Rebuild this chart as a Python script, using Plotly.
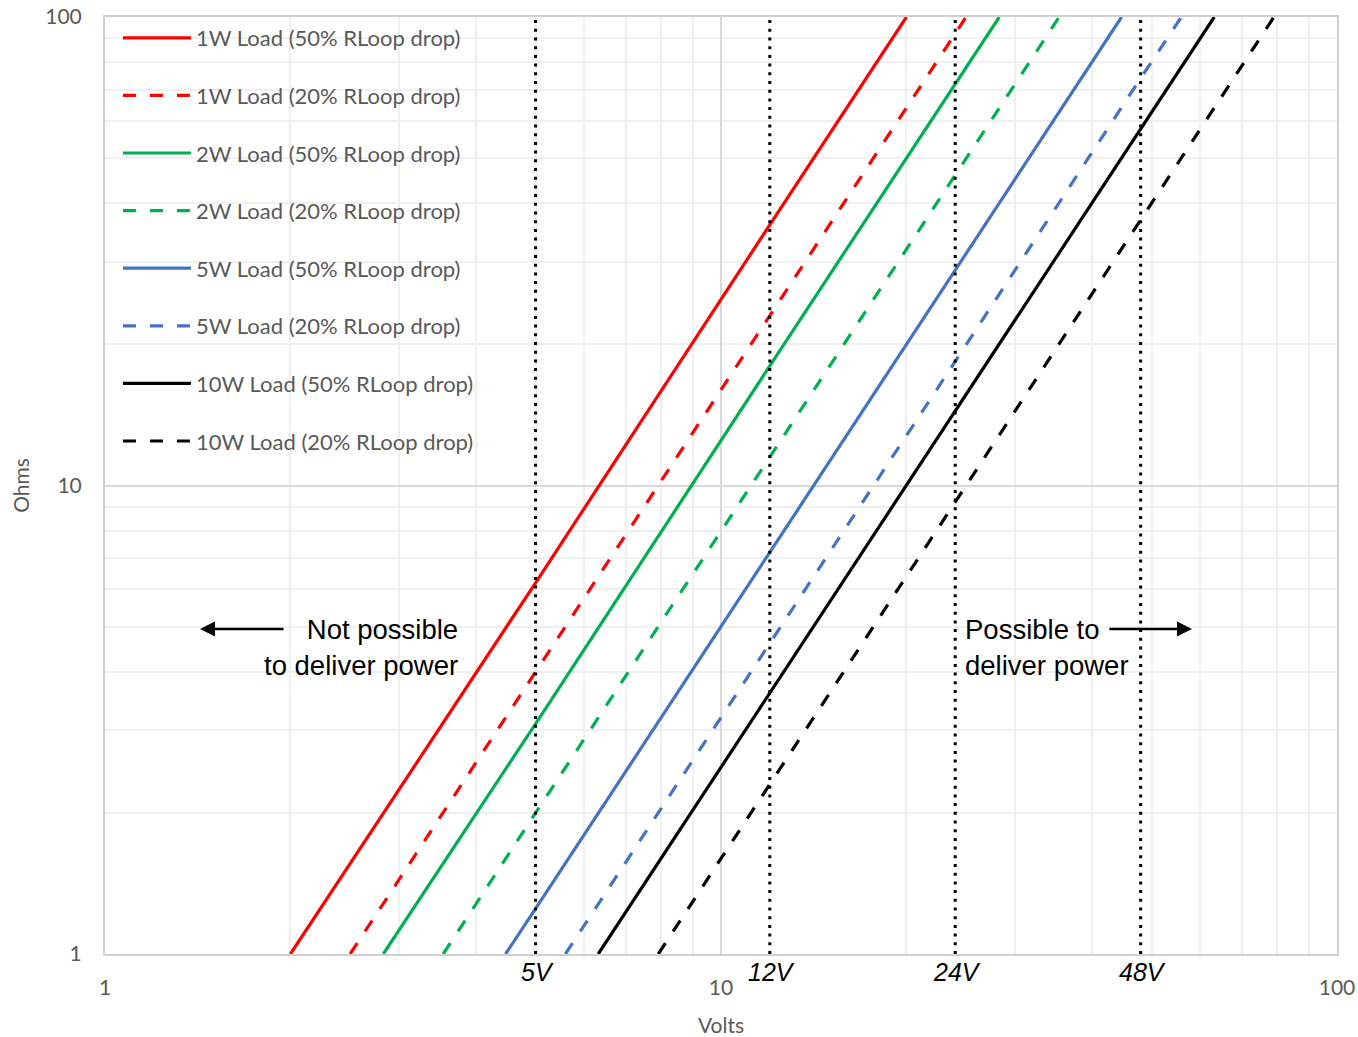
import math
import plotly.graph_objects as go

# ---- data (Volts, Ohms) ----
series_names = [
    "1W Load (50% RLoop drop)", "1W Load (20% RLoop drop)",
    "2W Load (50% RLoop drop)", "2W Load (20% RLoop drop)",
    "5W Load (50% RLoop drop)", "5W Load (20% RLoop drop)",
    "10W Load (50% RLoop drop)", "10W Load (20% RLoop drop)",
]
volts_1w_50 = [2.0, 5, 12, 20.0]
ohms_1w_50 = [1.0, 6.2, 36, 100]
volts_1w_20 = [2.5, 5, 12, 24, 25.0]
ohms_1w_20 = [1.0, 4.0, 23, 92, 100]
volts_2w_50 = [2.83, 5, 12, 24, 28.3]
ohms_2w_50 = [1.0, 3.1, 18, 72, 100]
volts_2w_20 = [3.54, 5, 12, 24, 35.4]
ohms_2w_20 = [1.0, 2.0, 11.5, 46, 100]
volts_5w_50 = [4.47, 5, 12, 24, 44.7]
ohms_5w_50 = [1.0, 1.25, 7.2, 28.8, 100]
volts_5w_20 = [5.59, 12, 24, 48, 55.9]
ohms_5w_20 = [1.0, 4.6, 18.4, 74, 100]
volts_10w_50 = [6.32, 12, 24, 48, 63.2]
ohms_10w_50 = [1.0, 3.6, 14.4, 57.6, 100]
volts_10w_20 = [7.91, 12, 24, 48, 79.0]
ohms_10w_20 = [1.0, 2.3, 9.2, 36.9, 100]

supply_voltages = [5, 12, 24, 48]
supply_labels = ["5V", "12V", "24V", "48V"]
ohm_range = [1, 100]

x_ticks = [1, 10, 100]
y_ticks = [1, 10, 100]

series_x = [volts_1w_50, volts_1w_20, volts_2w_50, volts_2w_20,
            volts_5w_50, volts_5w_20, volts_10w_50, volts_10w_20]
series_y = [ohms_1w_50, ohms_1w_20, ohms_2w_50, ohms_2w_20,
            ohms_5w_50, ohms_5w_20, ohms_10w_50, ohms_10w_20]
colors = ["#FF0000", "#FF0000", "#00B050", "#00B050",
          "#4472C4", "#4472C4", "#000000", "#000000"]
dashes = ["solid", "13px,14px"] * 4

fig = go.Figure()
for i, (nm, xs, ys) in enumerate(zip(series_names, series_x, series_y)):
    fig.add_trace(go.Scatter(
        x=xs, y=ys, mode="lines", name=nm, legendgroup=str(i),
        line=dict(color=colors[i], width=3.2, dash=dashes[i]),
    ))

for v in supply_voltages:
    fig.add_trace(go.Scatter(
        x=[v, v], y=ohm_range, mode="lines", showlegend=False,
        line=dict(color="#000000", width=3, dash="3px,5.7px"), hoverinfo="skip",
    ))

annotations = []
for v, lab in zip(supply_voltages, supply_labels):
    annotations.append(dict(
        x=math.log10(v), xref="x", y=-0.0195, yref="paper",
        text=lab, showarrow=False, xanchor="center", yanchor="middle", xshift=2,
        font=dict(family="Liberation Sans, Arial", size=25, color="#000000", style="italic"),
    ))

txt_font = dict(family="Liberation Sans, Arial", size=27.5, color="#000000")
annotations.append(dict(
    x=0.577, y=0.654, xref="x", yref="y", text="Not possible<br>to deliver power",
    showarrow=False, xanchor="right", yanchor="middle", align="right", font=txt_font,
))
annotations.append(dict(
    x=1.393, y=0.654, xref="x", yref="y", text="Possible to<br>deliver power",
    showarrow=False, xanchor="left", yanchor="middle", align="left", font=txt_font,
))
# arrows
annotations.append(dict(
    x=0.1542, y=0.6937, xref="x", yref="y", ax=0.2922, ay=0.6937, axref="x", ayref="y",
    text="", showarrow=True, arrowhead=2, arrowsize=1.2, arrowwidth=2.5, arrowcolor="#000000",
))
annotations.append(dict(
    x=1.7646, y=0.6937, xref="x", yref="y", ax=1.628, ay=0.6937, axref="x", ayref="y",
    text="", showarrow=True, arrowhead=2, arrowsize=1.2, arrowwidth=2.5, arrowcolor="#000000",
))

tick_font = dict(family="Lato, Calibri, sans-serif", size=21, color="#595959")
axis_common = dict(
    type="log", tickvals=x_ticks, ticktext=[str(t) for t in x_ticks],
    showgrid=True, gridcolor="#D9D9D9", gridwidth=1.5,
    minor=dict(dtick="D1", showgrid=True, gridcolor="#F0F0F0", gridwidth=1.5),
    showline=True, linecolor="#D0D0D0", linewidth=2, mirror=True,
    zeroline=False, ticks="", tickfont=tick_font, automargin=False,
)

fig.update_layout(
    width=1358, height=1037,
    margin=dict(l=105, r=21, t=17, b=83),
    paper_bgcolor="white", plot_bgcolor="white",
    font=dict(family="Lato, Calibri, sans-serif", color="#595959"),
    xaxis=dict(axis_common, range=[0, 2], ticklabelstandoff=14,
               title=dict(text="Volts", font=dict(size=21, color="#595959"), standoff=22)),
    yaxis=dict(axis_common, range=[0, 2], tickvals=y_ticks, ticktext=[str(t) for t in y_ticks],
               ticklabelstandoff=17,
               title=dict(text="Ohms", font=dict(size=21, color="#595959"), standoff=10)),
    legend=dict(
        x=0.0105, y=1.0, xanchor="left", yanchor="top",
        bgcolor="rgba(0,0,0,0)", font=dict(family="Lato, Calibri, sans-serif", size=22, color="#595959"),
        tracegroupgap=26, itemwidth=68,
    ),
    annotations=annotations,
    showlegend=True,
)

fig.write_html(
    "out.html",
    config={"displayModeBar": False},
    post_script="document.body.style.margin='0';document.body.style.overflow='hidden';",
)
